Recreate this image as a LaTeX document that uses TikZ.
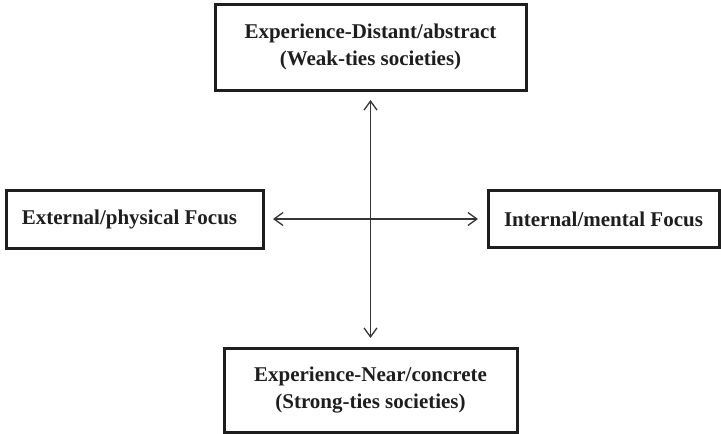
\documentclass[tikz,border=0pt]{standalone}
\usepackage{fontspec}
\setmainfont{Liberation Serif}
\usetikzlibrary{arrows.meta}
\definecolor{ink}{HTML}{1E1E1E}
\begin{document}
\begin{tikzpicture}[x=1pt,y=-1pt,
  box/.style={draw=ink, line width=3pt, inner sep=0pt, align=center, text=ink,
    font=\bfseries\fontsize{21}{26.5}\selectfont},
  link/.style={draw=ink!90, line width=1.5pt, {Straight Barb[length=9pt,width=13pt,line width=1.3pt]}-{Straight Barb[length=9pt,width=13pt,line width=1.3pt]}, shorten <=8.5pt, shorten >=8.5pt}]
\useasboundingbox (0,0) rectangle (721,434);
\node[box, minimum width=311pt, minimum height=86pt] (top) at (370.5,47) {Experience-Distant/abstract\\(Weak-ties societies)};
\node[box, minimum width=293pt, minimum height=84pt] (bot) at (370.5,390) {Experience-Near/concrete\\(Strong-ties societies)};
\node[box, minimum width=257pt, minimum height=58pt] (left) at (134.5,219) {External/physical Focus\hspace*{10pt}};
\node[box, minimum width=231pt, minimum height=57pt] (right) at (603.5,219) {Internal/mental Focus};
\draw[link] (top.south) -- (bot.north);
\draw[link] (left.east) -- (right.west);
\end{tikzpicture}
\end{document}
